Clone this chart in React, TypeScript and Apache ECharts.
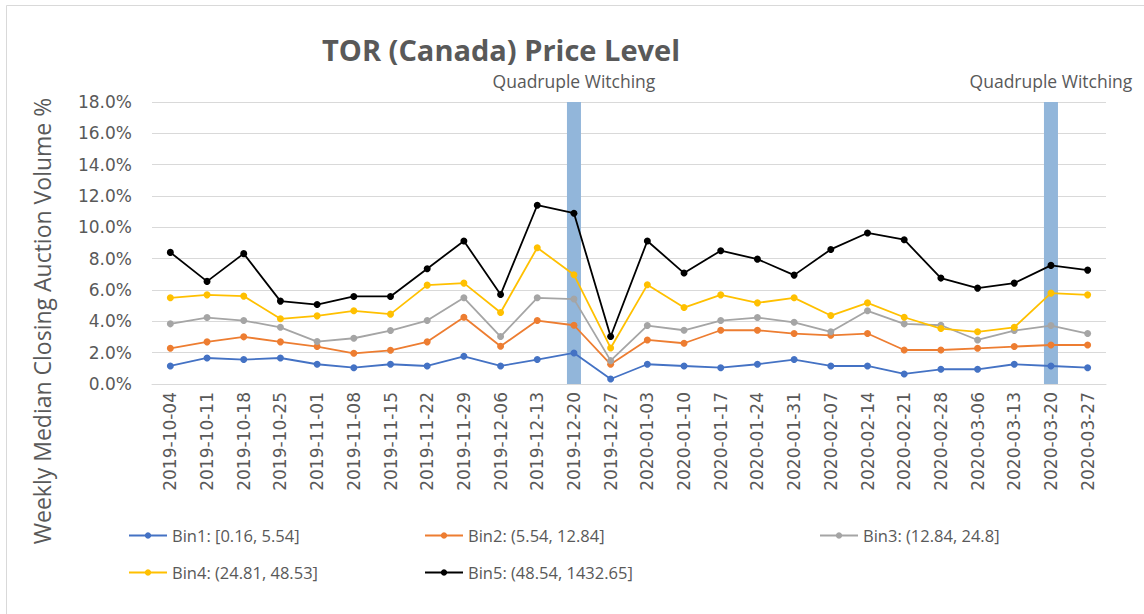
import React, { useEffect, useRef } from "react";
import * as echarts from "echarts";

const categories = [
  "2019-10-04", "2019-10-11", "2019-10-18", "2019-10-25", "2019-11-01", "2019-11-08",
  "2019-11-15", "2019-11-22", "2019-11-29", "2019-12-06", "2019-12-13", "2019-12-20",
  "2019-12-27", "2020-01-03", "2020-01-10", "2020-01-17", "2020-01-24", "2020-01-31",
  "2020-02-07", "2020-02-14", "2020-02-21", "2020-02-28", "2020-03-06", "2020-03-13",
  "2020-03-20", "2020-03-27",
];

const bin1 = [1.15, 1.66, 1.56, 1.66, 1.26, 1.04, 1.26, 1.15, 1.77, 1.15, 1.56, 1.98,
  0.32, 1.26, 1.15, 1.04, 1.26, 1.56, 1.15, 1.15, 0.64, 0.94, 0.94, 1.26, 1.15, 1.04];
const bin2 = [2.28, 2.69, 3.01, 2.69, 2.39, 1.96, 2.15, 2.69, 4.26, 2.41, 4.05, 3.75,
  1.26, 2.81, 2.6, 3.43, 3.43, 3.22, 3.11, 3.22, 2.17, 2.17, 2.28, 2.39, 2.49, 2.49];
const bin3 = [3.84, 4.24, 4.05, 3.62, 2.71, 2.92, 3.41, 4.05, 5.5, 3.03, 5.5, 5.42,
  1.49, 3.73, 3.43, 4.05, 4.24, 3.94, 3.33, 4.67, 3.84, 3.75, 2.81, 3.41, 3.73, 3.22];
const bin4 = [5.5, 5.69, 5.61, 4.16, 4.35, 4.67, 4.46, 6.31, 6.44, 4.56, 8.7, 6.97,
  2.3, 6.33, 4.88, 5.69, 5.18, 5.5, 4.37, 5.18, 4.26, 3.54, 3.33, 3.62, 5.8, 5.69];
const bin5 = [8.4, 6.55, 8.32, 5.29, 5.07, 5.59, 5.59, 7.36, 9.13, 5.71, 11.41, 10.9,
  3.03, 9.13, 7.08, 8.51, 7.97, 6.95, 8.59, 9.64, 9.21, 6.76, 6.12, 6.44, 7.57, 7.27];

const seriesNames = [
  "Bin1: [0.16, 5.54]",
  "Bin2: (5.54, 12.84]",
  "Bin3: (12.84, 24.8]",
  "Bin4: (24.81, 48.53]",
  "Bin5: (48.54, 1432.65]",
];
const seriesColors = ["#4472c4", "#ed7d31", "#a5a5a5", "#ffc000", "#000000"];

const witchingDates = ["2019-12-20", "2020-03-20"];
const witchingLabel = "Quadruple Witching";
const yAxisTitle = "Weekly Median Closing Auction Volume %";
const chartTitle = "TOR (Canada) Price Level";
const yMax = 18;

const FONT = "'Open Sans', 'Noto Sans', sans-serif";
const TICKFONT = "'DejaVu Sans', sans-serif";
const TEXT = "#595959";

export default function App() {
  const ref = useRef<HTMLDivElement>(null);
  useEffect(() => {
    if (!ref.current) return;
    const chart = echarts.init(ref.current, undefined, { renderer: "svg" });
    const allBins = [bin1, bin2, bin3, bin4, bin5];
    const witchData = categories.map((c) => (witchingDates.includes(c) ? yMax : "-"));
    const legendText = { color: TEXT, fontSize: 16.5, fontFamily: FONT };
    const legendBase = {
      orient: "vertical" as const,
      top: 522,
      itemWidth: 38,
      itemHeight: 8,
      itemGap: 20,
      textStyle: legendText,
    };
    chart.setOption({
      animation: false,
      backgroundColor: "#ffffff",
      title: {
        text: chartTitle,
        left: 496,
        top: 30,
        textAlign: "center",
        textStyle: { color: TEXT, fontSize: 29, fontWeight: "bold", fontFamily: FONT },
      },
      graphic: [
        {
          type: "rect",
          shape: { x: 6.5, y: 5.5, width: 1200, height: 700 },
          style: { fill: "none", stroke: "#d9d9d9", lineWidth: 1 },
          silent: true,
          z: -1,
        },
        {
          type: "text",
          x: 42,
          y: 321,
          rotation: Math.PI / 2,
          style: {
            text: yAxisTitle,
            fill: TEXT,
            fontSize: 23,
            fontFamily: FONT,
            textAlign: "center",
            textVerticalAlign: "middle",
          },
          silent: true,
        },
      ],
      legend: [
        { ...legendBase, left: 123, data: [seriesNames[0], seriesNames[3]] },
        { ...legendBase, left: 419, data: [seriesNames[1], seriesNames[4]] },
        { ...legendBase, left: 814, data: [seriesNames[2]] },
      ],
      grid: { left: 152, right: 38, top: 102, bottom: 230 },
      xAxis: {
        type: "category",
        data: categories,
        boundaryGap: true,
        axisLine: { lineStyle: { color: "#d9d9d9" } },
        axisTick: { show: false },
        axisLabel: {
          rotate: 90,
          color: TEXT,
          fontSize: 17,
          fontFamily: TICKFONT,
          margin: 8,
          interval: 0,
        },
      },
      yAxis: {
        type: "value",
        min: 0,
        max: yMax,
        interval: 2,
        axisLine: { show: false },
        axisTick: { show: false },
        splitLine: { lineStyle: { color: "#d9d9d9", width: 1 } },
        axisLabel: {
          color: TEXT,
          fontSize: 17,
          fontFamily: TICKFONT,
          margin: 20,
          formatter: (v: number) => v.toFixed(1) + "%",
        },
      },
      series: [
        {
          type: "bar",
          name: "witching",
          data: witchData,
          barWidth: 14,
          itemStyle: { color: "#92b6da" },
          z: 1,
          label: {
            show: true,
            position: "top",
            distance: 12,
            formatter: witchingLabel,
            color: TEXT,
            fontSize: 17.5,
            fontFamily: FONT,
          },
          silent: true,
        },
        ...allBins.map((d, i) => ({
          type: "line",
          name: seriesNames[i],
          data: d,
          symbol: "circle",
          symbolSize: 7,
          showSymbol: true,
          lineStyle: { color: seriesColors[i], width: 1.8 },
          itemStyle: { color: seriesColors[i] },
          z: 3,
        })),
      ],
    });
    return () => chart.dispose();
  }, []);
  return (
    <div
      ref={ref}
      style={{ position: "absolute", left: 0, top: 0, width: 1144, height: 614 }}
    />
  );
}
